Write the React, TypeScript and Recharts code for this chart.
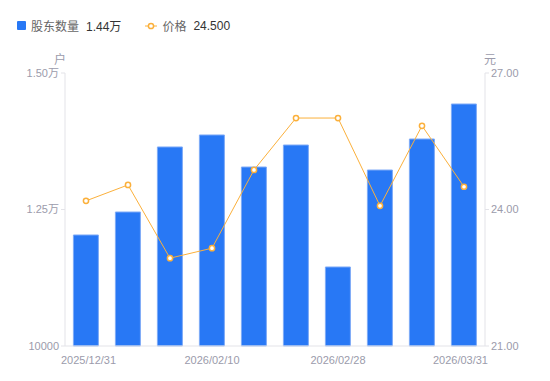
import React from "react";
import { Bar, ComposedChart, Line, XAxis, YAxis } from "recharts";

const dates = [
  "2025/12/31",
  "2026/01/09",
  "2026/01/20",
  "2026/02/10",
  "2026/02/13",
  "2026/02/20",
  "2026/02/28",
  "2026/03/10",
  "2026/03/20",
  "2026/03/31",
];
const holders = [12033, 12454, 13645, 13865, 13278, 13681, 11447, 13223, 13791, 14432];
const prices = [24.19, 24.54, 22.93, 23.15, 24.87, 26.01, 26.01, 24.08, 25.84, 24.5];
const leftTicks = [10000, 12500, 15000];
const rightTicks = [21, 24, 27];

const font = 'Arial, "Liberation Sans", "Noto Sans CJK SC", sans-serif';
const blue = "#2878f5";
const orange = "#fbb03b";
const tickColor = "#9b9bab";
const axisColor = "#e3e3e8";

const data = dates.map((d, i) => ({ date: d, holders: holders[i], price: prices[i] }));

function fmtHolders(v: number) {
  return v === 10000 ? "10000" : (v / 10000).toFixed(2) + "万";
}

// first/last labels hug the plot edges, others sit under their bar
function DateTick(props: any) {
  const { x, y, payload, index, visibleTicksCount } = props;
  let anchor = "middle";
  if (payload.index === 0 || index === 0) anchor = "start";
  if (payload.index === dates.length - 1 || index === visibleTicksCount - 1) anchor = "end";
  const dx = anchor === "start" ? -25 : anchor === "end" ? 24 : 0;
  return (
    <text x={x + dx} y={y + 10} textAnchor={anchor} fontSize={11} fill={tickColor} fontFamily={font}>
      {payload.value}
    </text>
  );
}

export default function App() {
  return (
    <div style={{ position: "absolute", left: 0, top: 0, width: 550, height: 381, background: "#fff", fontFamily: font }}>
      <div style={{ position: "absolute", left: 17, top: 17, fontSize: 12, display: "flex", alignItems: "center", whiteSpace: "nowrap" }}>
        <span style={{ width: 9, height: 9, background: blue, borderRadius: 1, display: "inline-block", marginRight: 5 }} />
        <span style={{ color: "#666" }}>股东数量</span>
        <span style={{ color: "#333", marginLeft: 7 }}>1.44万</span>
        <svg width={12} height={10} style={{ marginLeft: 24, marginRight: 5 }}>
          <line x1={0} y1={5} x2={12} y2={5} stroke={orange} strokeWidth={1} />
          <circle cx={6} cy={5} r={2.6} fill="#fff" stroke={orange} strokeWidth={1.5} />
        </svg>
        <span style={{ color: "#666" }}>价格</span>
        <span style={{ color: "#333", marginLeft: 7 }}>24.500</span>
      </div>
      <div style={{ position: "absolute", left: 54, top: 50, fontSize: 12, color: tickColor }}>户</div>
      <div style={{ position: "absolute", left: 484, top: 50, fontSize: 12, color: tickColor }}>元</div>
      <ComposedChart
        width={550}
        height={381}
        data={data}
        margin={{ top: 73, right: 0, bottom: 15, left: 0 }}
        barCategoryGap="20%"
      >
        <XAxis
          dataKey="date"
          interval={2}
          tick={<DateTick />}
          tickLine={false}
          axisLine={{ stroke: axisColor }}
          height={20}
        />
        <YAxis
          yAxisId="left"
          orientation="left"
          width={65}
          domain={[10000, 15000]}
          ticks={leftTicks}
          tickFormatter={fmtHolders}
          tick={{ fontSize: 11, fill: tickColor, fontFamily: font }}
          tickSize={4}
          tickLine={{ stroke: axisColor }}
          axisLine={{ stroke: axisColor }}
        />
        <YAxis
          yAxisId="right"
          orientation="right"
          width={65}
          domain={[21, 27]}
          ticks={rightTicks}
          tickFormatter={(v: number) => v.toFixed(2)}
          tick={{ fontSize: 11, fill: tickColor, fontFamily: font }}
          tickSize={4}
          tickLine={{ stroke: axisColor }}
          axisLine={{ stroke: axisColor }}
        />
        <Bar
          yAxisId="left"
          dataKey="holders"
          fill={blue}
          stroke="#7eaaf7"
          strokeWidth={1}
          isAnimationActive={false}
        />
        <Line
          yAxisId="right"
          dataKey="price"
          type="linear"
          stroke={orange}
          strokeWidth={1}
          dot={{ r: 2.6, fill: "#fff", stroke: orange, strokeWidth: 1.5 }}
          activeDot={false}
          isAnimationActive={false}
        />
      </ComposedChart>
    </div>
  );
}
